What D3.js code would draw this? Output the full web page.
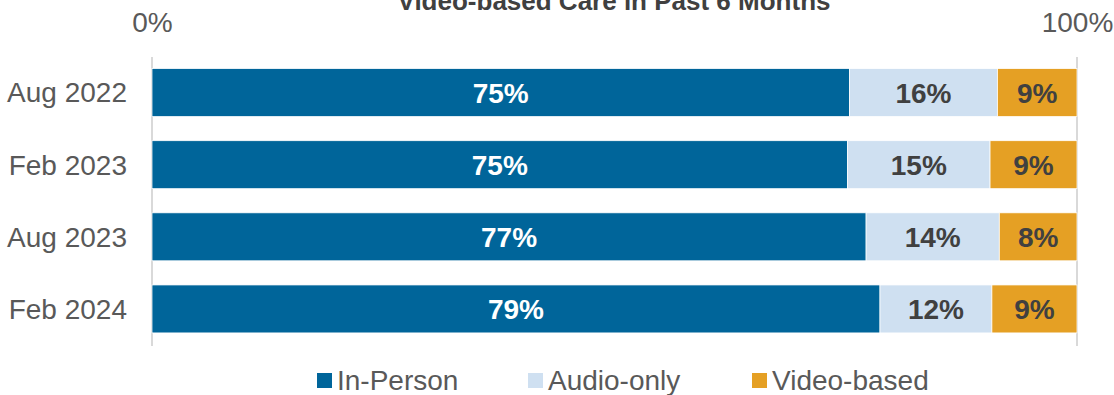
<!DOCTYPE html>
<html><head><meta charset="utf-8">
<script src="https://cdn.jsdelivr.net/npm/d3@7"></script>
<style>
html,body{margin:0;padding:0;background:#fff;}
svg{display:block;font-family:"Liberation Sans",Arial,sans-serif;}
</style></head>
<body><svg id="chart" width="1114" height="395"></svg>
<script>
const title = "Video-based Care in Past 6 Months";
const categories = ["Aug 2022", "Feb 2023", "Aug 2023", "Feb 2024"];
const seriesNames = ["In-Person", "Audio-only", "Video-based"];
const inPerson = [75.4, 75.2, 77.2, 78.7];
const audioOnly = [16.0, 15.4, 14.4, 12.1];
const videoBased = [8.6, 9.4, 8.4, 9.2];
const tickValues = [0, 100];
const colors = ["#00659A", "#CFE0F1", "#E5A024"];
const labelColors = ["#ffffff", "#404040", "#404040"];

const svg = d3.select("#chart");
const x = d3.scaleLinear().domain([0, 100]).range([152, 1077]);
const y = d3.scaleBand().domain(categories).range([56.5, 345]).paddingInner(0.335).paddingOuter(0.1675);

const rows = categories.map((c, i) => ({cat: c, "In-Person": inPerson[i], "Audio-only": audioOnly[i], "Video-based": videoBased[i]}));
const stacked = d3.stack().keys(seriesNames)(rows);

// title (clipped at top as in reference)
svg.append("text").attr("x", 614).attr("y", 10).attr("text-anchor", "middle")
  .attr("font-size", 26).attr("font-weight", "bold").attr("fill", "#404040").text(title);

// gridlines at ticks
svg.selectAll("line.grid").data(tickValues).enter().append("line")
  .attr("x1", d => x(d)).attr("x2", d => x(d)).attr("y1", 57).attr("y2", 346)
  .attr("stroke", "#d9d9d9").attr("stroke-width", 2);

// top axis labels
const axis = d3.axisTop(x).tickValues(tickValues).tickFormat(d => d + "%").tickSize(0).tickPadding(0);
const ag = svg.append("g").attr("transform", "translate(0,32)").call(axis);
ag.select(".domain").remove();
ag.selectAll("text").attr("font-size", 28).attr("fill", "#595959")
  .attr("font-family", '"Liberation Sans",Arial,sans-serif').attr("dy", 0);

// category axis
const yAxis = d3.axisLeft(y).tickSize(0).tickPadding(0);
const yg = svg.append("g").attr("transform", "translate(127,0)").call(yAxis);
yg.select(".domain").remove();
yg.selectAll("text").attr("font-size", 28).attr("fill", "#595959")
  .attr("font-family", '"Liberation Sans",Arial,sans-serif').attr("dy", "0.35em");

// bars
stacked.forEach((layer, si) => {
  const g = svg.append("g");
  g.selectAll("rect").data(layer).enter().append("rect")
    .attr("x", d => x(d[0])).attr("width", d => x(d[1]) - x(d[0]))
    .attr("y", d => y(d.data.cat)).attr("height", y.bandwidth())
    .attr("fill", colors[si]).attr("stroke", "#ffffff").attr("stroke-width", 0.75);
  g.selectAll("text").data(layer).enter().append("text")
    .attr("x", d => (x(d[0]) + x(d[1])) / 2)
    .attr("y", d => y(d.data.cat) + y.bandwidth() / 2)
    .attr("dy", "0.36em").attr("text-anchor", "middle")
    .attr("font-size", 28).attr("font-weight", "bold").attr("fill", labelColors[si])
    .text(d => Math.round(d[1] - d[0]) + "%");
});

// legend
const legendX = [317, 528, 752];
const lg = svg.append("g");
seriesNames.forEach((n, i) => {
  lg.append("rect").attr("x", legendX[i]).attr("y", 373).attr("width", 15).attr("height", 15).attr("fill", colors[i]);
  lg.append("text").attr("x", legendX[i] + 20).attr("y", 390).attr("font-size", 28).attr("fill", "#595959").text(n);
});
</script></body></html>
